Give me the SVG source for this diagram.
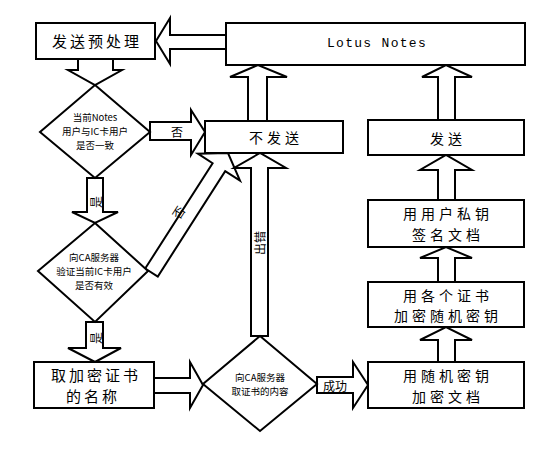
<svg xmlns="http://www.w3.org/2000/svg" width="549" height="450" viewBox="0 0 549 450">
<style>
.box{fill:#fff;stroke:#000;stroke-width:2}
.dia{fill:#fff;stroke:#000;stroke-width:2}
.arr{fill:#fff;stroke:#000;stroke-width:2;stroke-linejoin:miter}
.t{font-family:"Noto Sans CJK SC","Noto Sans",sans-serif;fill:#000;text-anchor:middle;dominant-baseline:central}
.big{font-size:15px;letter-spacing:3px}
.mid{font-size:14px;letter-spacing:4px}
.sm{font-size:9.5px}
.lab{font-size:12px}
.mono{font-family:"Liberation Mono",monospace;font-size:13px;letter-spacing:1.3px;fill:#000;text-anchor:middle;dominant-baseline:central}
</style>
<rect width="549" height="450" fill="#fff"/>
<g id="connectors">
<polygon class="arr" points="226,35 170,35 170,18 156,41 170,64 170,49 226,49"/>
<polygon class="arr" points="78,59 78,70 68,70 95,85 122,70 113,70 113,59"/>
<polygon class="arr" points="87,178 87,212 72,212 95,223 118,212 103,212 103,178"/>
<polygon class="arr" points="150,122 191,122 191,110 205,132 191,155 191,140 150,140"/>
<polygon class="arr" points="145.2,268.5 212.6,163.2 197.9,153.7 228,153 240,180.7 225.2,171.2 157.8,276.5"/>
<polygon class="arr" points="86,322 86,348 68,348 95,362 121,348 103,348 103,322"/>
<polygon class="arr" points="154,378 190,378 190,362 203,385 190,408 190,393 154,393"/>
<polygon class="arr" points="251,336 251,168 234,168 260,153 286,168 268,168 268,336"/>
<polygon class="arr" points="248,121 248,77 230,77 258,65 287,77 267,77 267,121"/>
<polygon class="arr" points="317,377 353,377 353,362 368,385 353,408 353,393 317,393"/>
<polygon class="arr" points="438,362 438,340 420,340 446,327 472,340 455,340 455,362"/>
<polygon class="arr" points="438,282 438,258 420,258 446,247 472,258 455,258 455,282"/>
<polygon class="arr" points="438,200 438,170 420,170 446,155 472,170 455,170 455,200"/>
<polygon class="arr" points="438,120 438,77 422,77 446,65 472,77 455,77 455,120"/>
<text class="t lab" x="95" y="202" transform="rotate(-90 95 202)">是</text>
<text class="t lab" x="95" y="338" transform="rotate(-90 95 338)">是</text>
<text class="t lab" x="177" y="131">否</text>
<text class="t lab" x="178" y="212" transform="rotate(-57 178 212)">否</text>
<text class="t lab" x="259" y="243" transform="rotate(-90 259 243)">出错</text>
<text class="t lab" x="335" y="385">成功</text>
</g>
<g id="lotus">
<rect class="box" x="226" y="23" width="299" height="42"/>
<text class="mono" x="377" y="43">Lotus Notes</text>
</g>
<g id="preprocess">
<rect class="box" x="36" y="23" width="119" height="36"/>
<text class="t big" x="97" y="40">发送预处理</text>
</g>
<g id="check-user">
<polygon class="dia" points="95,85 150,132 95,178 40,132"/>
<text class="t sm" x="95" y="117">当前Notes</text>
<text class="t sm" x="95" y="131">用户与IC卡用户</text>
<text class="t sm" x="95" y="145">是否一致</text>
</g>
<g id="nosend">
<rect class="box" x="205" y="121" width="138" height="32"/>
<text class="t mid" x="276" y="137">不发送</text>
</g>
<g id="check-ca">
<polygon class="dia" points="95,223 148,271 95,322 38,271"/>
<text class="t sm" x="94" y="257">向CA服务器</text>
<text class="t sm" x="94" y="271">验证当前IC卡用户</text>
<text class="t sm" x="94" y="285">是否有效</text>
</g>
<g id="get-cert-name">
<rect class="box" x="34" y="362" width="120" height="46"/>
<text class="t big" x="96" y="374.5">取加密证书</text>
<text class="t big" x="93" y="395.5">的名称</text>
</g>
<g id="get-cert">
<polygon class="dia" points="260,336 317,384 260,431 203,384"/>
<text class="t sm" x="260" y="377">向CA服务器</text>
<text class="t sm" x="260" y="391">取证书的内容</text>
</g>
<g id="encrypt-doc">
<rect class="box" x="368" y="362" width="156" height="46"/>
<text class="t mid" x="448" y="375">用随机密钥</text>
<text class="t mid" x="448" y="395.5">加密文档</text>
</g>
<g id="encrypt-key">
<rect class="box" x="368" y="282" width="156" height="45"/>
<text class="t mid" x="448" y="294.5">用各个证书</text>
<text class="t mid" x="448" y="315">加密随机密钥</text>
</g>
<g id="sign">
<rect class="box" x="368" y="200" width="156" height="47"/>
<text class="t mid" x="448" y="213">用用户私钥</text>
<text class="t mid" x="448" y="233.5">签名文档</text>
</g>
<g id="send">
<rect class="box" x="368" y="120" width="156" height="35"/>
<text class="t mid" x="448" y="138">发送</text>
</g>
</svg>
